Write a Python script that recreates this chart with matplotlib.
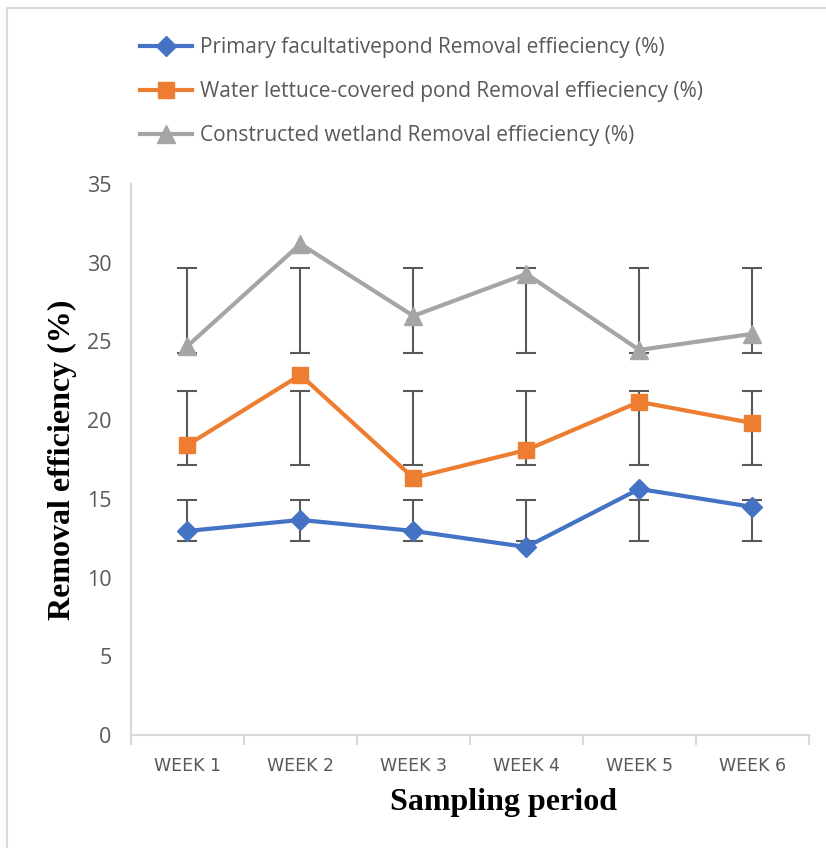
import matplotlib.pyplot as plt
from matplotlib.lines import Line2D
import numpy as np

weeks = ["WEEK 1", "WEEK 2", "WEEK 3", "WEEK 4", "WEEK 5", "WEEK 6"]

primaria = [12.96, 13.66, 12.96, 11.94, 15.63, 14.49]
lechuga = [18.42, 22.87, 16.33, 18.10, 21.16, 19.82]
humedal = [24.71, 31.19, 26.62, 29.29, 24.46, 25.48]

# barras de error (limite inferior y superior)
prim_lo = [12.33, 12.33, 12.33, 12.33, 12.33, 12.33]
prim_hi = [14.93, 14.93, 14.93, 14.93, 14.93, 14.93]
lech_lo = [17.15, 17.15, 17.15, 17.15, 17.15, 17.15]
lech_hi = [21.85, 21.85, 21.85, 21.85, 21.85, 21.85]
hum_lo = [24.27, 24.27, 24.27, 24.27, 24.27, 24.27]
hum_hi = [29.67, 29.67, 29.67, 29.67, 29.67, 29.67]

etiquetas = ["Primary facultativepond Removal effieciency (%)",
             "Water lettuce-covered pond Removal effieciency (%)",
             "Constructed wetland Removal effieciency (%)"]

fig = plt.figure(figsize=(8.26, 8.48), dpi=100)
ax = fig.add_axes([0.1586, 0.1333, 0.8204, 0.6497])

x = np.arange(len(weeks))

series = [(primaria, prim_lo, prim_hi, "#4472C4", "D", 10.5),
          (lechuga, lech_lo, lech_hi, "#ED7D31", "s", 12),
          (humedal, hum_lo, hum_hi, "#A5A5A5", "^", 12.5)]

for y, lo, hi, col, mk, ms in series:
    lo = np.array(lo)
    hi = np.array(hi)
    ax.errorbar(x, (lo + hi) / 2, yerr=(hi - lo) / 2, fmt="none",
                ecolor="#595959", elinewidth=1.5, capsize=7, capthick=1.5, zorder=2)

lineas = []
for (y, lo, hi, col, mk, ms), lab in zip(series, etiquetas):
    l, = ax.plot(x, y, color=col, lw=3, marker=mk, ms=ms, label=lab, zorder=3)
    lineas.append(l)

ax.set_xlim(-0.5, 5.5)
ax.set_ylim(0, 35)
ax.set_yticks(np.arange(0, 36, 5))
ax.set_xticks(x)
ax.set_xticklabels(weeks, fontfamily="DejaVu Sans", fontsize=12.5, color="#595959")
for t in ax.get_yticklabels():
    t.set_fontfamily("Open Sans")
    t.set_fontsize(15.5)
    t.set_color("#595959")
ax.tick_params(axis="y", length=0, pad=14)
ax.tick_params(axis="x", length=0, pad=16)
ax.set_xticks(np.arange(-0.5, 6, 1), minor=True)
ax.tick_params(axis="x", which="minor", length=7, color="#D9D9D9", width=1.5)

for s in ["top", "right"]:
    ax.spines[s].set_visible(False)
ax.spines["left"].set_color("#D9D9D9")
ax.spines["bottom"].set_color("#D9D9D9")
ax.spines["left"].set_linewidth(1.5)
ax.spines["bottom"].set_linewidth(1.5)

ax.set_ylabel("Removal efficiency (%)", fontfamily="Liberation Serif",
              fontweight="bold", fontsize=23)
ax.yaxis.set_label_coords(-0.08, 0.5)
ax.set_xlabel("Sampling period", fontfamily="Liberation Serif",
              fontweight="bold", fontsize=23)
ax.xaxis.set_label_coords(0.549, -0.097)

fig.legend(handles=lineas, loc="upper left", bbox_to_anchor=(0.147, 0.978),
           frameon=False, prop={"family": "Open Sans", "size": 15},
           labelcolor="#595959", handlelength=2.5, handletextpad=0.35,
           labelspacing=1.1)

# marco del grafico
fig.add_artist(Line2D([7/826, 1], [1 - 8/848, 1 - 8/848], color="#D9D9D9", lw=1.5))
fig.add_artist(Line2D([7/826, 7/826], [0, 1 - 8/848], color="#D9D9D9", lw=1.5))

plt.savefig("out.png", dpi=100)
